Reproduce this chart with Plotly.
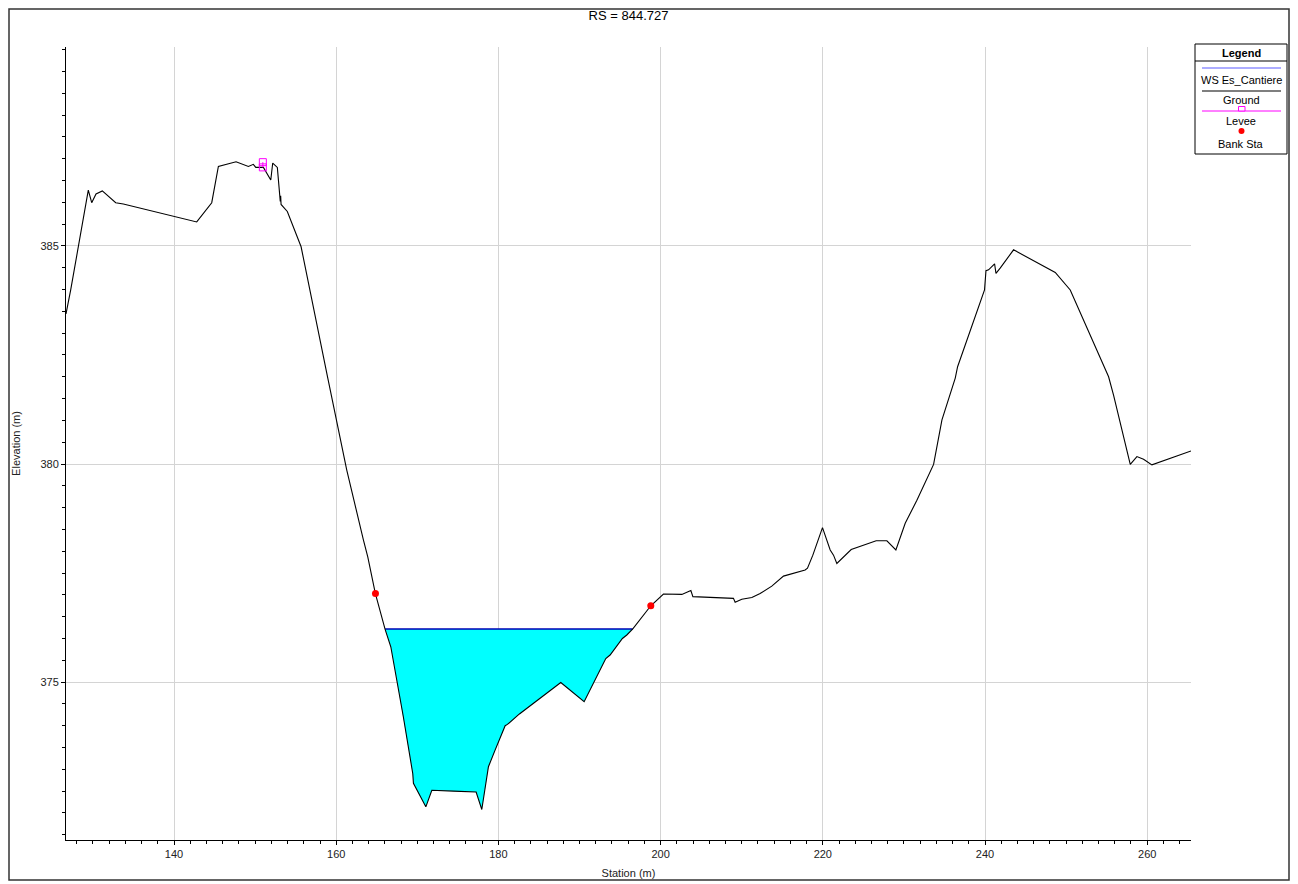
import plotly.graph_objects as go
import numpy as np

# ---------------- data ----------------
title_text = "RS = 844.727"
x_title = "Station (m)"
y_title = "Elevation (m)"

ground_sta = [126.68, 127.26, 129.43, 129.85, 130.38, 131.16, 132.81, 133.75, 142.80, 144.65,
              145.47, 147.65, 149.17, 149.78, 150.08, 151.02, 151.93, 152.17, 152.74, 153.10,
              153.15, 153.20, 153.97, 155.67, 158.96, 159.86, 161.30, 163.35, 163.89, 164.83,
              166.03, 166.73, 167.47, 168.28, 169.44, 169.52, 171.05, 171.79, 174.45, 177.25,
              177.95, 178.77, 179.59, 180.83, 181.11, 182.59, 187.69, 190.57, 193.24, 193.77,
              195.29, 195.83, 196.57, 198.79, 200.35, 202.62, 203.73, 203.98, 208.98, 209.19,
              210.01, 211.25, 212.27, 213.71, 215.15, 217.82, 218.11, 218.77, 219.96, 220.91,
              221.32, 221.73, 223.50, 226.58, 227.90, 229.01, 230.16, 231.60, 233.66, 234.69,
              236.33, 236.62, 239.94, 240.12, 240.44, 241.18, 241.35, 241.87, 243.52, 248.66,
              250.51, 255.24, 255.85, 257.91, 258.73, 259.55, 260.58, 265.40]
ground_elev = [383.44, 383.99, 386.28, 385.99, 386.19, 386.26, 385.99, 385.96, 385.55, 385.99,
               386.82, 386.93, 386.82, 386.87, 386.80, 386.80, 386.51, 386.90, 386.80, 386.02,
               386.15, 385.95, 385.79, 384.98, 381.97, 381.16, 379.86, 378.26, 377.87, 377.03,
               376.21, 375.81, 375.05, 374.20, 372.90, 372.68, 372.14, 372.52, 372.50, 372.48,
               372.08, 373.06, 373.44, 374.00, 374.03, 374.27, 374.99, 374.55, 375.54, 375.62,
               376.00, 376.08, 376.22, 376.75, 377.02, 377.01, 377.10, 376.96, 376.92, 376.83,
               376.90, 376.94, 377.03, 377.20, 377.43, 377.57, 377.61, 377.91, 378.54, 378.03,
               377.91, 377.72, 378.04, 378.24, 378.24, 378.03, 378.64, 379.17, 379.99, 381.01,
               381.97, 382.23, 383.99, 384.43, 384.45, 384.59, 384.37, 384.49, 384.91, 384.39,
               383.99, 382.00, 381.58, 379.99, 380.17, 380.11, 379.98, 380.30]

ws_elev = 376.22
ws_sta_left = 166.03
ws_sta_right = 196.57

levee_sta = [150.95, 150.95]
levee_elev = [386.80, 386.92]

bank_sta = [164.84, 198.79]
bank_elev = [377.03, 376.75]

x_range = [126.68, 265.4]
y_range = [371.38, 389.56]
x_ticks = [140, 160, 180, 200, 220, 240, 260]
y_ticks = [375, 380, 385]

legend_labels = ["WS Es_Cantiere", "Ground", "Levee", "Bank Sta"]

# ---------------- layout geometry (pixels, in reference-screen coordinates) ----------------
OFF = 8                      # default page body margin
W, H = 1298 - OFF, 884 - OFF
L, R, T, B = 66, 1191, 47, 840   # plot-area edges on screen
PW, PH = R - L, B - T


def px(xp):
    return (xp - L) / PW


def py(yp):
    return (B - yp) / PH


FONT = "Liberation Sans, Arial, sans-serif"

# water polygon: ground points between WS edges
gs = np.array(ground_sta)
ge = np.array(ground_elev)
inside = (gs > ws_sta_left) & (gs < ws_sta_right)
poly_x = [ws_sta_left] + list(gs[inside]) + [ws_sta_right, ws_sta_left]
poly_y = [ws_elev] + list(ge[inside]) + [ws_elev, ws_elev]

fig = go.Figure()

fig.add_trace(go.Scatter(x=poly_x, y=poly_y, mode="lines", fill="toself",
                         fillcolor="#00ffff", line=dict(width=0, color="#00ffff"),
                         hoverinfo="skip", showlegend=False))
fig.add_trace(go.Scatter(x=[ws_sta_left, ws_sta_right], y=[ws_elev, ws_elev], mode="lines",
                         line=dict(color="#0000b4", width=1.5), name=legend_labels[0],
                         showlegend=False))
fig.add_trace(go.Scatter(x=ground_sta, y=ground_elev, mode="lines",
                         line=dict(color="black", width=1.1), name=legend_labels[1],
                         showlegend=False))
fig.add_trace(go.Scatter(x=levee_sta, y=levee_elev, mode="lines+markers",
                         line=dict(color="#ff00ff", width=1),
                         marker=dict(symbol="square-open", size=7, color="#ff00ff",
                                     line=dict(width=1, color="#ff00ff")),
                         name=legend_labels[2], showlegend=False))
fig.add_trace(go.Scatter(x=bank_sta, y=bank_elev, mode="markers",
                         marker=dict(symbol="circle", size=7, color="#ff0000"),
                         name=legend_labels[3], showlegend=False))

shapes = []
annotations = []

# outer frame (top/left edges kept just inside the figure area)
shapes.append(dict(type="rect", xref="paper", yref="paper",
                   x0=px(9), x1=px(1289), y0=py(880), y1=py(9),
                   line=dict(color="#333333", width=1.5), fillcolor="rgba(0,0,0,0)"))

# custom legend box
lx0, lx1, ly0, ly1 = 1195, 1287, 44, 154
shapes.append(dict(type="rect", xref="paper", yref="paper",
                   x0=px(lx0), x1=px(lx1), y0=py(ly1), y1=py(ly0),
                   line=dict(color="black", width=1), fillcolor="white"))
shapes.append(dict(type="line", xref="paper", yref="paper",
                   x0=px(lx0), x1=px(lx1), y0=py(61), y1=py(61),
                   line=dict(color="black", width=1)))
lcx = (lx0 + lx1) / 2
annotations.append(dict(text="<b>Legend</b>", xref="paper", yref="paper", x=px(lcx), y=py(53),
                        showarrow=False, xanchor="center", yanchor="middle",
                        font=dict(family=FONT, size=11, color="black")))
# WS
shapes.append(dict(type="line", xref="paper", yref="paper", x0=px(1202), x1=px(1281),
                   y0=py(68), y1=py(68), line=dict(color="#5a5aff", width=1.2)))
annotations.append(dict(text=legend_labels[0], xref="paper", yref="paper", x=px(lcx), y=py(80),
                        showarrow=False, xanchor="center", yanchor="middle",
                        font=dict(family=FONT, size=11, color="black")))
# Ground
shapes.append(dict(type="line", xref="paper", yref="paper", x0=px(1202), x1=px(1281),
                   y0=py(91), y1=py(91), line=dict(color="black", width=1.2)))
annotations.append(dict(text=legend_labels[1], xref="paper", yref="paper", x=px(lcx), y=py(100),
                        showarrow=False, xanchor="center", yanchor="middle",
                        font=dict(family=FONT, size=11, color="black")))
# Levee
shapes.append(dict(type="line", xref="paper", yref="paper", x0=px(1202), x1=px(1281),
                   y0=py(111), y1=py(111), line=dict(color="#ff00ff", width=1)))
shapes.append(dict(type="rect", xref="paper", yref="paper", x0=px(1238.5), x1=px(1245),
                   y0=py(111), y1=py(106.5), line=dict(color="#ff00ff", width=1),
                   fillcolor="white"))
annotations.append(dict(text=legend_labels[2], xref="paper", yref="paper", x=px(lcx), y=py(121),
                        showarrow=False, xanchor="center", yanchor="middle",
                        font=dict(family=FONT, size=11, color="black")))
# Bank Sta
shapes.append(dict(type="circle", xref="paper", yref="paper", x0=px(1238.5), x1=px(1244.5),
                   y0=py(134), y1=py(128), line=dict(color="#ff0000", width=0),
                   fillcolor="#ff0000"))
annotations.append(dict(text=legend_labels[3], xref="paper", yref="paper", x=px(lcx), y=py(144),
                        showarrow=False, xanchor="center", yanchor="middle",
                        font=dict(family=FONT, size=11, color="black")))

fig.update_layout(
    width=W, height=H,
    margin=dict(l=L - OFF, r=W - (R - OFF), t=T - OFF, b=H - (B - OFF), pad=0),
    paper_bgcolor="white", plot_bgcolor="white",
    font=dict(family=FONT, size=11, color="#222222"),
    title=dict(text=title_text, x=0.5, xanchor="center", xref="paper",
               y=1 - (15 - OFF) / H, yanchor="middle", yref="container",
               font=dict(family=FONT, size=13, color="black")),
    showlegend=False,
    shapes=shapes,
    annotations=annotations,
)

fig.update_xaxes(range=x_range, tickvals=x_ticks, ticktext=[str(v) for v in x_ticks],
                 showgrid=True, gridcolor="#d4d4d4", gridwidth=1, zeroline=False,
                 showline=True, linecolor="black", linewidth=1,
                 ticks="outside", ticklen=4, tickcolor="black",
                 minor=dict(dtick=2, tick0=0, ticks="outside", ticklen=3, tickcolor="black",
                            showgrid=False),
                 tickfont=dict(family=FONT, size=11, color="#222222"),
                 title=dict(text=x_title, standoff=10,
                            font=dict(family=FONT, size=11, color="#222222")),
                 automargin=False)
fig.update_yaxes(range=y_range, tickvals=y_ticks, ticktext=[str(v) for v in y_ticks],
                 showgrid=True, gridcolor="#d4d4d4", gridwidth=1, zeroline=False,
                 showline=True, linecolor="black", linewidth=1,
                 ticks="outside", ticklen=4, tickcolor="black",
                 minor=dict(dtick=0.5, tick0=0, ticks="outside", ticklen=3, tickcolor="black",
                            showgrid=False),
                 tickfont=dict(family=FONT, size=11, color="#222222"),
                 title=dict(text=y_title, standoff=17,
                            font=dict(family=FONT, size=11, color="#222222")),
                 automargin=False)

fig.write_html("out.html")
